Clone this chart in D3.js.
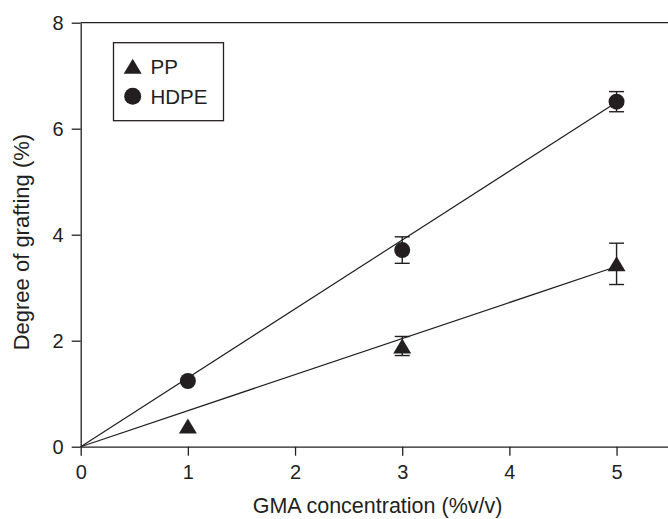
<!DOCTYPE html>
<html>
<head>
<meta charset="utf-8">
<script src="https://cdn.jsdelivr.net/npm/d3@7"></script>
<style>
  html, body { margin: 0; padding: 0; background: #fff; }
  #chart svg { display: block; }
  text { font-family: Arial, "Liberation Sans", sans-serif; fill: #231f20; }
</style>
</head>
<body>
<div id="chart"></div>
<script>
// Data
const concentrations = [1, 3, 5];
const ppValues = [0.39, 1.90, 3.45];
const ppErrors = [0, 0.18, 0.39];
const hdpeValues = [1.24, 3.71, 6.51];
const hdpeErrors = [0, 0.25, 0.19];

// linear fits through the origin
const fitX = [0, 5];
const ppFit = [0, 3.4];
const hdpeFit = [0, 6.5];

const xTicks = [0, 1, 2, 3, 4, 5];
const yTicks = [0, 2, 4, 6, 8];
const seriesNames = ['PP', 'HDPE'];

const Chart = {
  init() {
    this.wrapper = document.querySelector('#chart');

    this.setVar();
    this.create();
    this.scales();
    this.axis();
    this.createFits();
    this.createErrorBars();
    this.createMarkers();
    this.createLegend();
  },

  setVar() {
    this.ink = '#231f20';

    this.margin = {
      left: 80.7,
      right: 0,
      top: 22.7,
      bottom: 72.3,
    };

    this.width = 668 - this.margin.left - this.margin.right;
    this.height = 519 - this.margin.top - this.margin.bottom;
  },

  create() {
    this.svg = d3.select('#chart').append('svg')
      .attr('width', 668)
      .attr('height', 519);

    this.g = this.svg.append('g')
      .attr('transform', `translate(${this.margin.left} ${this.margin.top})`);
  },

  scales() {
    this.x = d3.scaleLinear()
      .domain([0, 5.48])
      .range([0, this.width]);

    this.y = d3.scaleLinear()
      .domain([0, 8])
      .range([this.height, 0]);
  },

  axis() {
    // top frame line
    this.g.append('line')
      .attr('x1', 0)
      .attr('x2', this.width)
      .attr('y1', 0)
      .attr('y2', 0)
      .attr('stroke', this.ink)
      .attr('stroke-width', 1.3);

    this.ay = d3.axisLeft(this.y)
      .tickValues(yTicks)
      .tickFormat(d3.format('d'))
      .tickSize(9)
      .tickPadding(8)
      .tickSizeOuter(0);
    this.ayCall = this.g.append('g').call(this.ay);

    this.ax = d3.axisBottom(this.x)
      .tickValues(xTicks)
      .tickFormat(d3.format('d'))
      .tickSize(9)
      .tickPadding(9)
      .tickSizeOuter(0);
    this.axCall = this.g.append('g')
      .attr('transform', `translate(0, ${this.height})`)
      .call(this.ax);

    [this.ayCall, this.axCall].forEach((a) => {
      a.select('.domain').attr('stroke', this.ink).attr('stroke-width', 1.3);
      a.selectAll('line').attr('stroke', this.ink).attr('stroke-width', 1.3);
      a.selectAll('text')
        .attr('fill', this.ink)
        .attr('font-size', '20px')
        .attr('font-family', 'Arial, "Liberation Sans", sans-serif');
    });

    this.g.append('text')
      .attr('x', this.x(2.77))
      .attr('y', this.height + 66)
      .attr('text-anchor', 'middle')
      .attr('font-size', '21.5px')
      .text('GMA concentration (%v/v)');

    this.g.append('text')
      .attr('transform', `translate(${29 - this.margin.left}, ${this.y(3.86)}) rotate(-90)`)
      .attr('text-anchor', 'middle')
      .attr('font-size', '22px')
      .text('Degree of grafting (%)');
  },

  createFits() {
    const fits = [ppFit, hdpeFit];
    this.line = d3.line()
      .x((d, i) => this.x(fitX[i]))
      .y((d) => this.y(d));

    this.g.selectAll('.fit')
      .data(fits)
      .join('path')
      .attr('class', 'fit')
      .attr('fill', 'none')
      .attr('stroke', this.ink)
      .attr('stroke-width', 1.2)
      .attr('d', (d) => this.line(d));
  },

  createErrorBars() {
    const bars = [];
    concentrations.forEach((c, i) => {
      bars.push({ x: c, v: ppValues[i], e: ppErrors[i] });
      bars.push({ x: c, v: hdpeValues[i], e: hdpeErrors[i] });
    });

    const cap = 7.5;
    const eb = this.g.selectAll('.err')
      .data(bars.filter((d) => d.e > 0))
      .join('g')
      .attr('class', 'err')
      .attr('stroke', this.ink)
      .attr('stroke-width', 1.4);

    eb.append('line')
      .attr('x1', (d) => this.x(d.x))
      .attr('x2', (d) => this.x(d.x))
      .attr('y1', (d) => this.y(d.v - d.e))
      .attr('y2', (d) => this.y(d.v + d.e));

    eb.append('line')
      .attr('x1', (d) => this.x(d.x) - cap)
      .attr('x2', (d) => this.x(d.x) + cap)
      .attr('y1', (d) => this.y(d.v + d.e))
      .attr('y2', (d) => this.y(d.v + d.e));

    eb.append('line')
      .attr('x1', (d) => this.x(d.x) - cap)
      .attr('x2', (d) => this.x(d.x) + cap)
      .attr('y1', (d) => this.y(d.v - d.e))
      .attr('y2', (d) => this.y(d.v - d.e));
  },

  triangle(w, h) {
    return `M0,${-h / 2}L${w / 2},${h / 2}L${-w / 2},${h / 2}Z`;
  },

  createMarkers() {
    this.g.selectAll('.pp')
      .data(ppValues)
      .join('path')
      .attr('class', 'pp')
      .attr('d', this.triangle(18, 15))
      .attr('fill', this.ink)
      .attr('transform', (d, i) => `translate(${this.x(concentrations[i])}, ${this.y(d)})`);

    this.g.selectAll('.hdpe')
      .data(hdpeValues)
      .join('circle')
      .attr('class', 'hdpe')
      .attr('r', 8)
      .attr('fill', this.ink)
      .attr('cx', (d, i) => this.x(concentrations[i]))
      .attr('cy', (d) => this.y(d));
  },

  createLegend() {
    const lg = this.svg.append('g')
      .attr('transform', 'translate(113.5 42.7)');

    lg.append('rect')
      .attr('width', 110)
      .attr('height', 78)
      .attr('fill', '#fff')
      .attr('stroke', this.ink)
      .attr('stroke-width', 1.3);

    lg.append('path')
      .attr('d', this.triangle(18, 15))
      .attr('fill', this.ink)
      .attr('transform', 'translate(19.2 23.5)');

    lg.append('circle')
      .attr('r', 8.5)
      .attr('fill', this.ink)
      .attr('cx', 19.2)
      .attr('cy', 53.5);

    lg.selectAll('.lg-label')
      .data(seriesNames)
      .join('text')
      .attr('class', 'lg-label')
      .attr('x', 37)
      .attr('y', (d, i) => 31 + i * 30)
      .attr('font-size', '20.5px')
      .text((d) => d);
  },
};

Chart.init();
</script>
</body>
</html>
